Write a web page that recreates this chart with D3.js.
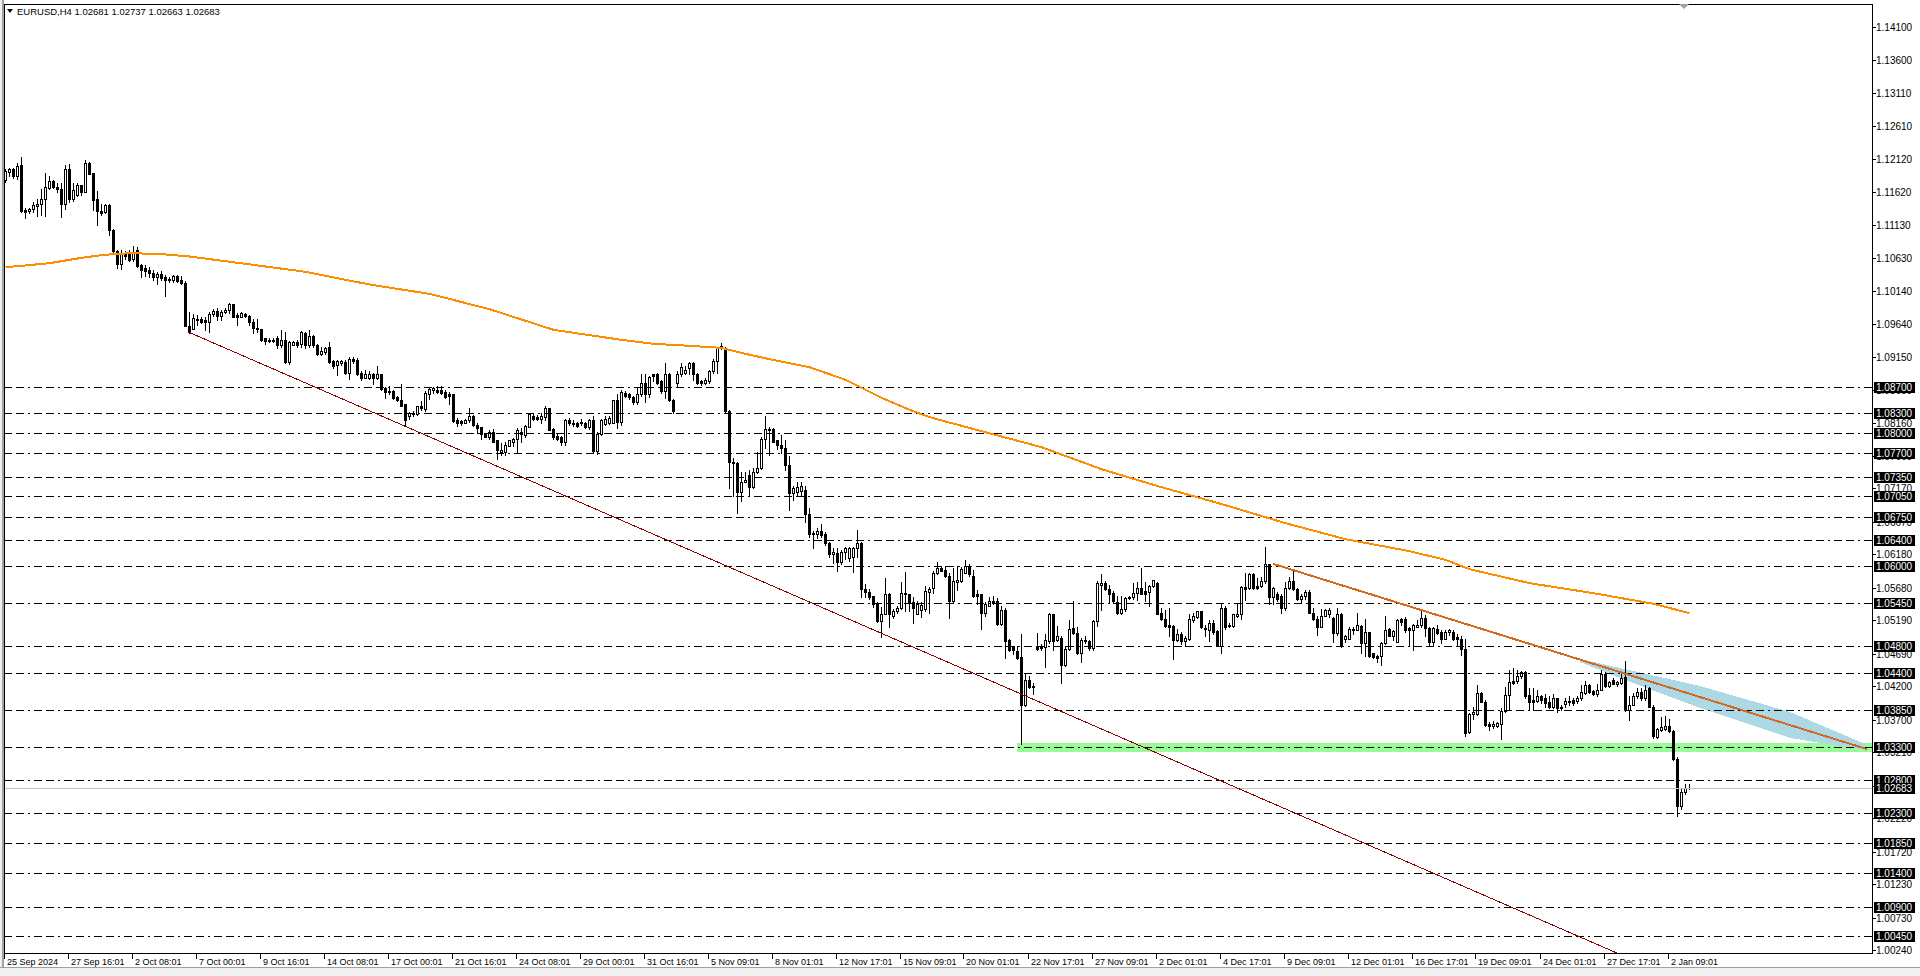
<!DOCTYPE html>
<html><head><meta charset="utf-8">
<script src="https://cdn.jsdelivr.net/npm/d3@7"></script>
<style>
html,body{margin:0;padding:0;background:#fff;overflow:hidden}
svg{display:block}
text{font-family:"Liberation Sans",Arial,sans-serif}
</style></head><body>
<svg id="c" width="1920" height="976"></svg>
<script>
// ---------------- DATA ----------------
const symbolTitle = "EURUSD,H4  1.02681 1.02737 1.02663 1.02683";
const opens=[1.1180,1.1192,1.1196,1.1185,1.1202,1.1135,1.1133,1.1137,1.1141,1.1143,
1.1152,1.1168,1.1178,1.1170,1.1166,1.1144,1.1197,1.1152,1.1158,1.1172,
1.1162,1.1205,1.1190,1.1151,1.1133,1.1132,1.1142,1.1105,1.1073,1.1054,
1.1069,1.1068,1.1061,1.1075,1.1053,1.1047,1.1044,1.1040,1.1034,1.1039,
1.1034,1.1031,1.1029,1.1036,1.1030,1.1025,1.0961,1.0957,1.0972,1.0971,
1.0969,1.0966,1.0978,1.0983,1.0976,1.0982,1.0984,1.0994,1.0977,1.0975,
1.0979,1.0976,1.0967,1.0958,1.0957,1.0942,1.0940,1.0938,1.0942,1.0932,
1.0940,1.0907,1.0933,1.0937,1.0934,1.0951,1.0932,1.0945,1.0932,1.0919,
1.0922,1.0929,1.0908,1.0902,1.0905,1.0907,1.0890,1.0912,1.0909,1.0890,
1.0883,1.0883,1.0888,1.0883,1.0888,1.0868,1.0863,1.0863,1.0854,1.0850,
1.0843,1.0825,1.0829,1.0829,1.0841,1.0836,1.0859,1.0864,1.0865,1.0865,
1.0861,1.0858,1.0858,1.0820,1.0818,1.0816,1.0819,1.0826,1.0812,1.0809,
1.0798,1.0794,1.0802,1.0789,1.0772,1.0772,1.0781,1.0787,1.0791,1.0802,
1.0797,1.0810,1.0826,1.0824,1.0821,1.0824,1.0838,1.0806,1.0796,1.0794,
1.0787,1.0819,1.0816,1.0816,1.0817,1.0816,1.0809,1.0819,1.0774,1.0799,
1.0814,1.0815,1.0816,1.0849,1.0817,1.0860,1.0858,1.0855,1.0846,1.0858,
1.0876,1.0858,1.0888,1.0888,1.0878,1.0863,1.0888,1.0850,1.0876,1.0888,
1.0890,1.0898,1.0905,1.0889,1.0878,1.0876,1.0878,1.0893,1.0908,1.0928,
1.0928,1.0834,1.0757,1.0756,1.0712,1.0727,1.0737,1.0719,1.0742,1.0747,
1.0791,1.0806,1.0806,1.0789,1.0782,1.0777,1.0752,1.0711,1.0712,1.0714,
1.0715,1.0679,1.0650,1.0648,1.0653,1.0648,1.0635,1.0618,1.0620,1.0607,
1.0622,1.0613,1.0614,1.0628,1.0635,1.0566,1.0561,1.0555,1.0545,1.0518,
1.0529,1.0559,1.0525,1.0534,1.0538,1.0560,1.0558,1.0546,1.0529,1.0535,
1.0536,1.0561,1.0568,1.0590,1.0598,1.0595,1.0586,1.0548,1.0576,1.0578,
1.0591,1.0601,1.0586,1.0558,1.0558,1.0531,1.0541,1.0548,1.0548,1.0514,
1.0535,1.0489,1.0481,1.0473,1.0464,1.0393,1.0430,1.0421,1.0479,1.0481,
1.0479,1.0488,1.0528,1.0489,1.0493,1.0453,1.0476,1.0508,1.0500,1.0470,
1.0489,1.0488,1.0478,1.0518,1.0573,1.0575,1.0566,1.0560,1.0546,1.0531,
1.0536,1.0554,1.0554,1.0560,1.0568,1.0563,1.0561,1.0571,1.0575,1.0531,
1.0521,1.0513,1.0511,1.0489,1.0499,1.0488,1.0491,1.0520,1.0524,1.0533,
1.0508,1.0504,1.0515,1.0503,1.0481,1.0538,1.0511,1.0511,1.0526,1.0529,
1.0570,1.0568,1.0589,1.0571,1.0571,1.0578,1.0603,1.0554,1.0559,1.0555,
1.0538,1.0568,1.0578,1.0566,1.0552,1.0555,1.0562,1.0531,1.0521,1.0510,
1.0526,1.0529,1.0522,1.0500,1.0529,1.0491,1.0492,1.0506,1.0505,1.0511,
1.0485,1.0501,1.0470,1.0466,1.0465,1.0485,1.0506,1.0496,1.0487,1.0521,
1.0521,1.0507,1.0505,1.0510,1.0512,1.0522,1.0507,1.0487,1.0506,1.0501,
1.0492,1.0502,1.0502,1.0494,1.0492,1.0476,1.0352,1.0379,1.0379,1.0410,
1.0397,1.0363,1.0361,1.0360,1.0363,1.0383,1.0407,1.0428,1.0428,1.0435,
1.0442,1.0407,1.0399,1.0398,1.0405,1.0402,1.0397,1.0389,1.0402,1.0388,
1.0394,1.0397,1.0399,1.0398,1.0402,1.0410,1.0422,1.0413,1.0408,1.0415,
1.0439,1.0421,1.0430,1.0424,1.0425,1.0434,1.0384,1.0393,1.0405,1.0412,
1.0402,1.0417,1.0390,1.0344,1.0354,1.0356,1.0360,1.0353,1.0312,1.0240,
1.0262,1.02681];
const highs=[1.1197,1.1198,1.1198,1.1205,1.1215,1.1138,1.1138,1.1146,1.1151,1.1166,
1.1190,1.1185,1.1180,1.1176,1.1176,1.1202,1.1204,1.1176,1.1175,1.1173,
1.1210,1.1207,1.1190,1.1163,1.1143,1.1143,1.1144,1.1106,1.1075,1.1075,
1.1073,1.1075,1.1080,1.1079,1.1054,1.1052,1.1049,1.1044,1.1042,1.1043,
1.1038,1.1035,1.1038,1.1038,1.1036,1.1028,1.0982,1.0978,1.0977,1.0975,
1.0975,1.0982,1.0986,1.0987,1.0984,1.0987,1.0996,1.0994,1.0980,1.0981,
1.0980,1.0977,1.0972,1.0972,1.0957,1.0943,1.0942,1.0943,1.0945,1.0955,
1.0952,1.0938,1.0938,1.0939,1.0954,1.0952,1.0955,1.0947,1.0934,1.0929,
1.0930,1.0937,1.0909,1.0909,1.0910,1.0909,1.0914,1.0914,1.0913,1.0894,
1.0895,1.0894,1.0891,1.0901,1.0889,1.0870,1.0871,1.0865,1.0856,1.0874,
1.0843,1.0832,1.0834,1.0841,1.0848,1.0863,1.0870,1.0870,1.0871,1.0871,
1.0864,1.0861,1.0858,1.0822,1.0820,1.0821,1.0837,1.0827,1.0815,1.0809,
1.0800,1.0805,1.0806,1.0790,1.0785,1.0787,1.0790,1.0793,1.0807,1.0807,
1.0812,1.0830,1.0830,1.0827,1.0830,1.0840,1.0838,1.0807,1.0800,1.0796,
1.0821,1.0822,1.0819,1.0817,1.0821,1.0817,1.0821,1.0826,1.0801,1.0821,
1.0826,1.0826,1.0850,1.0858,1.0864,1.0863,1.0860,1.0856,1.0870,1.0888,
1.0888,1.0885,1.0889,1.0891,1.0880,1.0905,1.0890,1.0851,1.0893,1.0905,
1.0901,1.0906,1.0906,1.0890,1.0879,1.0883,1.0895,1.0911,1.0930,1.0935,
1.0930,1.0835,1.0762,1.0757,1.0742,1.0742,1.0745,1.0747,1.0772,1.0795,
1.0826,1.0810,1.0807,1.0790,1.0797,1.0790,1.0765,1.0721,1.0727,1.0727,
1.0721,1.0687,1.0654,1.0657,1.0663,1.0652,1.0637,1.0628,1.0627,1.0625,
1.0629,1.0629,1.0629,1.0655,1.0637,1.0574,1.0566,1.0556,1.0546,1.0539,
1.0582,1.0560,1.0536,1.0541,1.0576,1.0592,1.0559,1.0554,1.0549,1.0546,
1.0571,1.0569,1.0593,1.0606,1.0600,1.0600,1.0590,1.0598,1.0601,1.0599,
1.0610,1.0604,1.0595,1.0565,1.0558,1.0546,1.0554,1.0555,1.0553,1.0540,
1.0538,1.0491,1.0481,1.0480,1.0498,1.0438,1.0436,1.0425,1.0500,1.0483,
1.0498,1.0531,1.0529,1.0511,1.0495,1.0480,1.0520,1.0548,1.0509,1.0493,
1.0495,1.0490,1.0520,1.0578,1.0588,1.0578,1.0573,1.0563,1.0555,1.0556,
1.0554,1.0556,1.0575,1.0576,1.0598,1.0576,1.0573,1.0580,1.0576,1.0538,
1.0535,1.0538,1.0513,1.0506,1.0501,1.0495,1.0529,1.0531,1.0534,1.0534,
1.0513,1.0520,1.0519,1.0504,1.0543,1.0540,1.0515,1.0529,1.0545,1.0571,
1.0590,1.0590,1.0590,1.0583,1.0584,1.0630,1.0604,1.0570,1.0561,1.0558,
1.0576,1.0584,1.0593,1.0568,1.0559,1.0564,1.0565,1.0537,1.0525,1.0536,
1.0536,1.0537,1.0524,1.0537,1.0530,1.0497,1.0509,1.0510,1.0531,1.0512,
1.0521,1.0502,1.0471,1.0467,1.0486,1.0525,1.0507,1.0505,1.0521,1.0522,
1.0524,1.0509,1.0514,1.0520,1.0536,1.0527,1.0510,1.0510,1.0512,1.0505,
1.0504,1.0506,1.0504,1.0499,1.0495,1.0492,1.0380,1.0390,1.0422,1.0412,
1.0399,1.0367,1.0368,1.0367,1.0388,1.0419,1.0444,1.0447,1.0444,1.0443,
1.0443,1.0417,1.0417,1.0414,1.0407,1.0408,1.0405,1.0409,1.0403,1.0392,
1.0402,1.0405,1.0403,1.0405,1.0422,1.0429,1.0423,1.0414,1.0424,1.0444,
1.0442,1.0429,1.0433,1.0429,1.0442,1.0458,1.0406,1.0410,1.0417,1.0417,
1.0422,1.0419,1.0392,1.0358,1.0374,1.0375,1.0371,1.0354,1.0314,1.0266,
1.0273,1.02737];
const lows=[1.1177,1.1186,1.1182,1.1181,1.1132,1.1122,1.1130,1.1132,1.1126,1.1127,
1.1126,1.1166,1.1168,1.1161,1.1124,1.1136,1.1146,1.1148,1.1156,1.1158,
1.1161,1.1188,1.1135,1.1113,1.1127,1.1131,1.1098,1.1072,1.1048,1.1046,
1.1061,1.1058,1.1058,1.1050,1.1034,1.1036,1.1034,1.1029,1.1024,1.1030,
1.1006,1.1026,1.1026,1.1026,1.1023,1.0960,1.0951,1.0956,1.0962,1.0965,
1.0955,1.0952,1.0976,1.0970,1.0970,1.0980,1.0980,1.0974,1.0962,1.0974,
1.0974,1.0962,1.0950,1.0952,1.0938,1.0934,1.0937,1.0937,1.0927,1.0929,
1.0905,1.0904,1.0932,1.0929,1.0929,1.0927,1.0930,1.0930,1.0917,1.0917,
1.0919,1.0905,1.0898,1.0887,1.0902,1.0889,1.0881,1.0905,1.0887,1.0880,
1.0882,1.0881,1.0874,1.0881,1.0865,1.0853,1.0858,1.0851,1.0848,1.0840,
1.0811,1.0821,1.0826,1.0827,1.0835,1.0834,1.0851,1.0860,1.0860,1.0858,
1.0853,1.0844,1.0817,1.0811,1.0812,1.0815,1.0817,1.0811,1.0800,1.0792,
1.0794,1.0792,1.0786,1.0761,1.0767,1.0767,1.0780,1.0781,1.0770,1.0787,
1.0795,1.0809,1.0819,1.0819,1.0815,1.0820,1.0804,1.0792,1.0790,1.0782,
1.0782,1.0812,1.0811,1.0810,1.0812,1.0807,1.0806,1.0772,1.0769,1.0797,
1.0812,1.0814,1.0815,1.0807,1.0812,1.0854,1.0851,1.0844,1.0844,1.0856,
1.0846,1.0855,1.0878,1.0874,1.0860,1.0853,1.0848,1.0831,1.0869,1.0885,
1.0888,1.0888,1.0879,1.0874,1.0873,1.0874,1.0876,1.0891,1.0891,1.0926,
1.0830,1.0717,1.0705,1.0680,1.0698,1.0726,1.0705,1.0717,1.0740,1.0746,
1.0777,1.0767,1.0786,1.0776,1.0771,1.0745,1.0685,1.0699,1.0705,1.0705,
1.0667,1.0644,1.0627,1.0642,1.0644,1.0633,1.0614,1.0605,1.0593,1.0604,
1.0612,1.0609,1.0592,1.0614,1.0554,1.0554,1.0551,1.0539,1.0516,1.0494,
1.0528,1.0510,1.0523,1.0531,1.0536,1.0534,1.0534,1.0515,1.0528,1.0524,
1.0534,1.0530,1.0560,1.0588,1.0593,1.0584,1.0523,1.0545,1.0565,1.0576,
1.0590,1.0585,1.0554,1.0543,1.0506,1.0526,1.0540,1.0543,1.0513,1.0513,
1.0463,1.0473,1.0468,1.0461,1.0334,1.0391,1.0418,1.0409,1.0475,1.0475,
1.0450,1.0485,1.0475,1.0488,1.0425,1.0451,1.0475,1.0498,1.0468,1.0456,
1.0485,1.0475,1.0475,1.0511,1.0535,1.0565,1.0545,1.0545,1.0528,1.0529,
1.0533,1.0551,1.0551,1.0550,1.0558,1.0548,1.0541,1.0570,1.0528,1.0520,
1.0509,1.0495,1.0461,1.0488,1.0484,1.0481,1.0490,1.0516,1.0523,1.0508,
1.0495,1.0488,1.0499,1.0480,1.0471,1.0506,1.0509,1.0510,1.0524,1.0521,
1.0550,1.0566,1.0566,1.0566,1.0570,1.0575,1.0544,1.0543,1.0549,1.0531,
1.0535,1.0566,1.0565,1.0550,1.0546,1.0552,1.0530,1.0520,1.0497,1.0509,
1.0525,1.0524,1.0487,1.0497,1.0479,1.0487,1.0491,1.0499,1.0504,1.0470,
1.0465,1.0464,1.0462,1.0457,1.0453,1.0484,1.0495,1.0489,1.0486,1.0512,
1.0502,1.0482,1.0474,1.0509,1.0510,1.0495,1.0480,1.0480,1.0498,1.0485,
1.0491,1.0497,1.0490,1.0480,1.0467,1.0345,1.0350,1.0372,1.0377,1.0396,
1.0360,1.0354,1.0358,1.0359,1.0341,1.0381,1.0385,1.0424,1.0425,1.0433,
1.0403,1.0385,1.0384,1.0397,1.0395,1.0389,1.0388,1.0388,1.0381,1.0385,
1.0390,1.0392,1.0392,1.0395,1.0399,1.0409,1.0410,1.0407,1.0405,1.0414,
1.0419,1.0419,1.0423,1.0421,1.0424,1.0383,1.0370,1.0392,1.0403,1.0400,
1.0399,1.0389,1.0343,1.0342,1.0353,1.0355,1.0352,1.0310,1.0226,1.0236,
1.0258,1.02663];
const closes=[1.1193,1.1196,1.1185,1.1201,1.1133,1.1132,1.1137,1.1142,1.1144,1.1152,
1.1169,1.1178,1.1170,1.1166,1.1144,1.1197,1.1152,1.1165,1.1172,1.1162,
1.1205,1.1189,1.1150,1.1134,1.1130,1.1142,1.1104,1.1073,1.1054,1.1068,
1.1065,1.1060,1.1070,1.1051,1.1045,1.1043,1.1040,1.1034,1.1039,1.1033,
1.1029,1.1029,1.1036,1.1028,1.1025,1.0961,1.0954,1.0973,1.0970,1.0967,
1.0966,1.0978,1.0983,1.0976,1.0982,1.0985,1.0994,1.0975,1.0975,1.0980,
1.0976,1.0966,1.0958,1.0956,1.0939,1.0938,1.0938,1.0940,1.0932,1.0940,
1.0907,1.0937,1.0937,1.0933,1.0952,1.0932,1.0945,1.0932,1.0919,1.0923,
1.0927,1.0907,1.0900,1.0908,1.0908,1.0890,1.0912,1.0908,1.0889,1.0883,
1.0889,1.0888,1.0882,1.0888,1.0866,1.0861,1.0861,1.0853,1.0849,1.0841,
1.0820,1.0831,1.0831,1.0840,1.0837,1.0860,1.0866,1.0868,1.0861,1.0860,
1.0855,1.0856,1.0818,1.0815,1.0816,1.0820,1.0826,1.0812,1.0807,1.0798,
1.0795,1.0801,1.0787,1.0775,1.0775,1.0782,1.0789,1.0792,1.0804,1.0799,
1.0811,1.0829,1.0821,1.0821,1.0826,1.0838,1.0805,1.0795,1.0792,1.0787,
1.0819,1.0815,1.0814,1.0811,1.0815,1.0809,1.0819,1.0774,1.0799,1.0819,
1.0821,1.0822,1.0849,1.0817,1.0861,1.0856,1.0854,1.0846,1.0858,1.0875,
1.0858,1.0884,1.0885,1.0876,1.0863,1.0888,1.0849,1.0833,1.0888,1.0899,
1.0895,1.0905,1.0888,1.0876,1.0875,1.0880,1.0893,1.0908,1.0928,1.0931,
1.0833,1.0757,1.0756,1.0712,1.0727,1.0730,1.0719,1.0742,1.0747,1.0791,
1.0806,1.0804,1.0787,1.0782,1.0777,1.0752,1.0711,1.0717,1.0719,1.0720,
1.0679,1.0648,1.0648,1.0654,1.0647,1.0635,1.0619,1.0622,1.0607,1.0622,
1.0628,1.0627,1.0628,1.0635,1.0566,1.0561,1.0554,1.0544,1.0518,1.0529,
1.0559,1.0529,1.0534,1.0538,1.0560,1.0558,1.0546,1.0538,1.0544,1.0542,
1.0563,1.0566,1.0590,1.0598,1.0594,1.0585,1.0548,1.0578,1.0579,1.0596,
1.0601,1.0588,1.0556,1.0556,1.0531,1.0544,1.0548,1.0545,1.0514,1.0535,
1.0488,1.0474,1.0474,1.0463,1.0393,1.0430,1.0419,1.0419,1.0476,1.0478,
1.0489,1.0528,1.0488,1.0496,1.0453,1.0476,1.0506,1.0500,1.0470,1.0490,
1.0488,1.0478,1.0518,1.0575,1.0575,1.0566,1.0559,1.0548,1.0531,1.0536,
1.0553,1.0553,1.0560,1.0568,1.0559,1.0559,1.0571,1.0579,1.0529,1.0521,
1.0511,1.0510,1.0489,1.0498,1.0488,1.0493,1.0521,1.0525,1.0533,1.0509,
1.0506,1.0515,1.0501,1.0481,1.0538,1.0510,1.0513,1.0528,1.0529,1.0570,
1.0566,1.0588,1.0568,1.0568,1.0578,1.0603,1.0554,1.0568,1.0551,1.0538,
1.0568,1.0578,1.0566,1.0551,1.0556,1.0562,1.0531,1.0521,1.0510,1.0526,
1.0535,1.0535,1.0500,1.0529,1.0480,1.0495,1.0506,1.0505,1.0512,1.0485,
1.0501,1.0465,1.0464,1.0462,1.0485,1.0505,1.0496,1.0503,1.0519,1.0517,
1.0504,1.0505,1.0512,1.0512,1.0522,1.0507,1.0487,1.0507,1.0500,1.0491,
1.0502,1.0504,1.0492,1.0492,1.0476,1.0350,1.0379,1.0381,1.0410,1.0397,
1.0362,1.0360,1.0363,1.0365,1.0383,1.0407,1.0427,1.0425,1.0435,1.0442,
1.0405,1.0397,1.0397,1.0405,1.0400,1.0395,1.0389,1.0402,1.0388,1.0390,
1.0398,1.0398,1.0395,1.0402,1.0412,1.0422,1.0412,1.0408,1.0415,1.0438,
1.0420,1.0427,1.0424,1.0427,1.0433,1.0384,1.0393,1.0405,1.0412,1.0403,
1.0415,1.0390,1.0345,1.0356,1.0359,1.0360,1.0353,1.0312,1.0240,1.0262,
1.0267,1.02683];

// moving average, read at sample bars
const maBars=[0,4,11,15,19,24,28,32,36,40,46,60,75,85,92,106,121,137,146,154,162,171,179,185,191,201,210,219,226,231,244,259,274,289,305,320,335,351,360,366,381,397,412,421];
const maValues=[1.1049,1.1051,1.1055,1.1059,1.1063,1.1067,1.1069,1.1070,1.1069,1.1068,1.1065,1.1054,1.1042,1.1030,1.1022,1.1009,1.0986,1.0955,1.0947,1.0940,1.0934,1.0931,1.0928,1.0919,1.0911,1.0899,1.0880,1.0853,1.0835,1.0824,1.0803,1.0779,1.0746,1.0719,1.0692,1.0665,1.0641,1.0623,1.0610,1.0596,1.0575,1.0560,1.0544,1.0530];

// horizontal level lines
const levels=[1.0870,1.0830,1.0800,1.0770,1.0735,1.0705,1.0675,1.0640,1.0600,1.0545,1.0480,1.0440,1.0385,1.0330,1.0280,1.0230,1.0185,1.0140,1.0090,1.0045];
const currentPrice=1.02683;
// right axis grid labels
const yTicks=[1.14100,1.13600,1.13110,1.12610,1.12120,1.11620,1.11130,1.10630,1.10140,1.09640,1.09150,1.08650,1.08160,1.07660,1.07170,1.06670,1.06180,1.05680,1.05190,1.04690,1.04200,1.03700,1.03210,1.02710,1.02220,1.01720,1.01230,1.00730,1.00240];
// bottom axis labels (one every 16 bars)
const xLabelBars=[0,16,32,48,64,80,96,112,128,144,160,176,192,208,224,240,256,272,288,304,320,336,352,368,384,400,416];
const xLabels=["25 Sep 2024","27 Sep 16:01","2 Oct 08:01","7 Oct 00:01","9 Oct 16:01","14 Oct 08:01","17 Oct 00:01","21 Oct 16:01","24 Oct 08:01","29 Oct 00:01","31 Oct 16:01","5 Nov 09:01","8 Nov 01:01","12 Nov 17:01","15 Nov 09:01","20 Nov 01:01","22 Nov 17:01","27 Nov 09:01","2 Dec 01:01","4 Dec 17:01","9 Dec 09:01","12 Dec 01:01","16 Dec 17:01","19 Dec 09:01","24 Dec 01:01","27 Dec 17:01","2 Jan 09:01"];
// drawn objects (bar index, price)
const channelLine=[[45.6,1.0952],[401.1,1.00248]];      // dark red ray
const resistLine=[[316.9,1.0604],[465.4,1.0326]];       // orange trend line
const wedgeBars=[393.6,423.6,446.1,464.9,464.9,446.1,423.6,403.6,393.6];
const wedgePrices=[1.04613,1.04208,1.03818,1.03338,1.03248,1.03428,1.03878,1.04328,1.04568];
const zoneBars=[252.9,470]; const zonePrices=[1.03353,1.03225];

// ---------------- LAYOUT ----------------
const L=4, R=1872, T=4, B=953;
const svg=d3.select('#c');
const x=d3.scaleLinear().domain([0,466]).range([5.5,5.5+4*466]);
const y=d3.scaleLinear().domain([1.0870,1.0330]).range([386.5,746.5]);
const ry=v=>Math.round(y(v));

svg.append('rect').attr('width',1920).attr('height',976).attr('fill','#fff');
svg.append('rect').attr('x',0).attr('y',0).attr('width',2).attr('height',976).attr('fill','#f0f0f0');
svg.append('rect').attr('x',2).attr('y',0).attr('width',2).attr('height',968).attr('fill','#a0a0a0');
svg.append('rect').attr('x',0).attr('y',968).attr('width',1920).attr('height',8).attr('fill','#f0f0f0');
svg.append('line').attr('x1',0).attr('x2',1920).attr('y1',967.5).attr('y2',967.5).attr('stroke','#a0a0a0');

svg.append('clipPath').attr('id','clip').append('rect').attr('x',L+1).attr('y',T+1).attr('width',R-L-1).attr('height',B-T-1);
const plot=svg.append('g').attr('clip-path','url(#clip)').attr('shape-rendering','crispEdges');

// green zone
plot.append('rect').attr('x',x(zoneBars[0])).attr('width',x(zoneBars[1])-x(zoneBars[0]))
  .attr('y',y(zonePrices[0])).attr('height',y(zonePrices[1])-y(zonePrices[0])).attr('fill','#98fb98');
// blue wedge
plot.append('path').attr('d',d3.line()(wedgeBars.map((b,k)=>[x(b),y(wedgePrices[k])]))+'Z').attr('fill','#add8e6');

// candles
const bars=d3.range(opens.length).map(i=>({i,o:opens[i],h:highs[i],l:lows[i],c:closes[i]}));
const cg=plot.append('g');
cg.selectAll('line.wick').data(bars).join('line').attr('class','wick')
  .attr('x1',d=>x(d.i)).attr('x2',d=>x(d.i))
  .attr('y1',d=>ry(d.h)).attr('y2',d=>ry(d.l)+1).attr('stroke','#000').attr('stroke-width',1);
bars.forEach(d=>{
  const top=ry(Math.max(d.o,d.c)), bot=ry(Math.min(d.o,d.c));
  if(bot-top>=2){
    cg.append('rect').attr('x',x(d.i)-1).attr('y',top+0.5).attr('width',2).attr('height',bot-top)
      .attr('fill',d.c>=d.o?'#fff':'#000').attr('stroke','#000').attr('stroke-width',1);
  } else {
    cg.append('rect').attr('x',x(d.i)-1.5).attr('y',top).attr('width',3).attr('height',bot-top+1).attr('fill','#000');
  }
});

// level lines
plot.selectAll('line.lvl').data(levels).join('line').attr('class','lvl')
  .attr('x1',L).attr('x2',R).attr('y1',d=>ry(d)+0.5).attr('y2',d=>ry(d)+0.5)
  .attr('stroke','#000').attr('stroke-width',1).attr('stroke-dasharray','8,4,8,4,2,4');
// current price line
plot.append('line').attr('x1',L).attr('x2',R).attr('y1',ry(currentPrice)+0.5).attr('y2',ry(currentPrice)+0.5)
  .attr('stroke','#c0c0c0').attr('stroke-width',1);

// moving average
plot.append('path').datum(maBars.map((b,k)=>[b,maValues[k]]))
  .attr('d',d3.line().x(d=>x(d[0])).y(d=>y(d[1])))
  .attr('fill','none').attr('stroke','#ff8c00').attr('stroke-width',2);

// dark red ray (extended to right edge)
{
  const [a,b]=channelLine; const s=(b[1]-a[1])/(b[0]-a[0]);
  const endBar=470, endP=a[1]+s*(endBar-a[0]);
  plot.append('line').attr('x1',x(a[0])).attr('y1',y(a[1])).attr('x2',x(endBar)).attr('y2',y(endP))
    .attr('stroke','#8b0000').attr('stroke-width',1);
}
// orange resistance line
plot.append('line').attr('x1',x(resistLine[0][0])).attr('y1',y(resistLine[0][1]))
  .attr('x2',x(resistLine[1][0])).attr('y2',y(resistLine[1][1]))
  .attr('stroke','#d2691e').attr('stroke-width',2);

// frame
const fr=svg.append('g').attr('shape-rendering','crispEdges');
fr.append('line').attr('x1',L+0.5).attr('x2',L+0.5).attr('y1',T).attr('y2',B+1).attr('stroke','#000');
fr.append('line').attr('x1',R+0.5).attr('x2',R+0.5).attr('y1',T).attr('y2',B+1).attr('stroke','#000');
fr.append('line').attr('x1',L).attr('x2',R+1).attr('y1',T+0.5).attr('y2',T+0.5).attr('stroke','#000');
fr.append('line').attr('x1',L).attr('x2',R+1).attr('y1',B+0.5).attr('y2',B+0.5).attr('stroke','#000');

// right axis: grid labels
const ax=svg.append('g');
ax.selectAll('line.yt').data(yTicks).join('line').attr('class','yt').attr('shape-rendering','crispEdges')
  .attr('x1',R+1).attr('x2',R+4).attr('y1',d=>ry(d)+0.5).attr('y2',d=>ry(d)+0.5).attr('stroke','#000');
ax.selectAll('text.yt').data(yTicks).join('text').attr('class','yt')
  .attr('x',R+4).attr('y',d=>ry(d)+4).attr('font-size','10px').attr('fill','#000').text(d=>d.toFixed(5));
// level boxes
const boxVals=levels.concat([currentPrice]);
const bx=ax.selectAll('g.box').data(boxVals).join('g').attr('class','box');
bx.append('rect').attr('x',R+2).attr('y',d=>ry(d)-5).attr('width',41).attr('height',11).attr('fill','#000').attr('shape-rendering','crispEdges');
bx.append('text').attr('x',R+4).attr('y',d=>ry(d)+4).attr('font-size','10px').attr('fill','#fff').text(d=>d.toFixed(5));

// bottom axis
const bxg=svg.append('g');
bxg.selectAll('line.xt').data(xLabelBars).join('line').attr('class','xt').attr('shape-rendering','crispEdges')
  .attr('x1',d=>Math.round(x(d))-1.5).attr('x2',d=>Math.round(x(d))-1.5).attr('y1',B+1).attr('y2',B+6).attr('stroke','#000');
bxg.selectAll('text.xt').data(xLabelBars).join('text').attr('class','xt')
  .attr('x',d=>Math.round(x(d))+1).attr('y',965).attr('font-size','9px').attr('fill','#000')
  .text((d,k)=>xLabels[k]);

// header
svg.append('path').attr('d','M7,9 L13,9 L10,13 Z').attr('fill','#000');
svg.append('text').attr('x',17).attr('y',15).attr('font-size','9.5px').attr('fill','#000').text(symbolTitle);
// chart shift marker
svg.append('path').attr('d','M1679,4 L1689,4 L1684,9 Z').attr('fill','#a0a0a0');
</script>
</body></html>
